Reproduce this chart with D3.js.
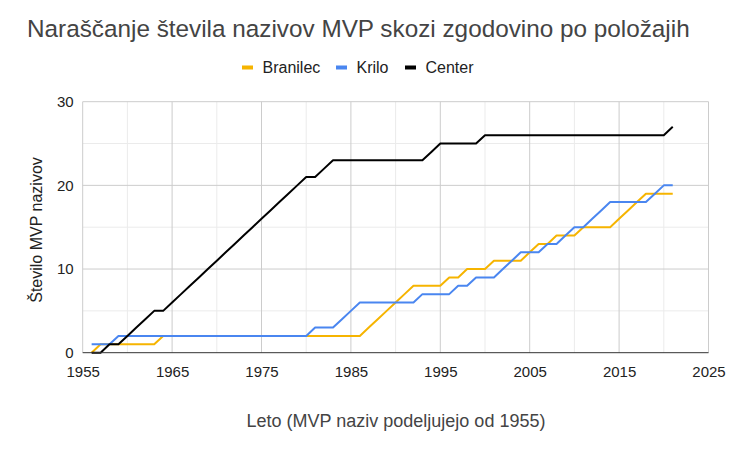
<!DOCTYPE html>
<html><head><meta charset="utf-8">
<script src="https://cdn.jsdelivr.net/npm/d3@7"></script>
<style>body{margin:0;background:#fff}svg{display:block}text{font-family:Arial,"Liberation Sans",sans-serif}</style>
</head><body>
<svg id="c" width="750" height="449"></svg>
<script>
const years = [1956,1957,1958,1959,1960,1961,1962,1963,1964,1965,1966,1967,1968,1969,1970,1971,1972,1973,1974,1975,1976,1977,1978,1979,1980,1981,1982,1983,1984,1985,1986,1987,1988,1989,1990,1991,1992,1993,1994,1995,1996,1997,1998,1999,2000,2001,2002,2003,2004,2005,2006,2007,2008,2009,2010,2011,2012,2013,2014,2015,2016,2017,2018,2019,2020,2021];
const branilec = [0,1,1,1,1,1,1,1,2, 2,2,2,2,2,2,2,2,2,2,2,2,2,2,2,2,2,2,2,2,2,2, 3,4,5,6,7,8,8,8,8,9,9,10,10,10,11,11,11,11,12,13,13,14,14,14,15,15,15,15,16,17,18,19,19,19,19];
const krilo = [1,1,1,2, 2,2,2,2,2,2,2,2,2,2,2,2,2,2,2,2,2,2,2,2,2, 3,3,3,4,5,6, 6,6,6,6,6,6, 7,7,7,7,8,8,9,9,9,10,11,12,12,12,13,13,14,15,15,16,17,18,18,18,18,18,19,20,20];
const center = [0,0,1,1,2,3,4,5,5, 6,7,8,9,10,11,12,13,14,15,16,17,18,19,20,21, 21,22,23, 23,23,23,23,23,23,23,23,23,23, 24,25, 25,25,25,25, 26,26,26,26,26,26,26,26,26,26,26,26,26,26,26,26,26,26,26,26,26, 27];
const seriesNames = ["Branilec","Krilo","Center"];
const seriesColors = ["#f6b400","#4a86f0","#000000"];
const xTicks = [1955,1965,1975,1985,1995,2005,2015,2025];
const yTicks = [0,10,20,30];
const titleText = "Naraščanje števila nazivov MVP skozi zgodovino po položajih";
const xTitle = "Leto (MVP naziv podeljujejo od 1955)";
const yTitle = "Število MVP nazivov";

const svg = d3.select("#c");
const L = 82.7, R = 708.5, T = 101.7, B = 352.7;
const x = d3.scaleLinear().domain([1955,2025]).range([L,R]);
const y = d3.scaleLinear().domain([0,30]).range([B,T]);

// minor gridlines
const g = svg.append("g");
g.selectAll(".vm").data(d3.range(1960,2025,10)).enter().append("line")
 .attr("x1",d=>x(d)).attr("x2",d=>x(d)).attr("y1",T).attr("y2",B).attr("stroke","#ebebeb").attr("stroke-width",1);
g.selectAll(".hm").data([5,15,25]).enter().append("line")
 .attr("x1",L).attr("x2",R).attr("y1",d=>y(d)).attr("y2",d=>y(d)).attr("stroke","#ebebeb").attr("stroke-width",1);
// major gridlines
g.selectAll(".vM").data(xTicks).enter().append("line")
 .attr("x1",d=>x(d)).attr("x2",d=>x(d)).attr("y1",T).attr("y2",B).attr("stroke","#cccccc").attr("stroke-width",1);
g.selectAll(".hM").data(yTicks.filter(d=>d>0)).enter().append("line")
 .attr("x1",L).attr("x2",R).attr("y1",d=>y(d)).attr("y2",d=>y(d)).attr("stroke","#cccccc").attr("stroke-width",1);

// lines
const data = [branilec, krilo, center];
const line = d3.line().x((d,i)=>x(years[i])).y(d=>y(d));
data.forEach((s,k)=>{
  svg.append("path").datum(s).attr("d",line).attr("fill","none")
    .attr("stroke",seriesColors[k]).attr("stroke-width",2).attr("stroke-linejoin","round");
});
// baseline
svg.append("line").attr("x1",L).attr("x2",R).attr("y1",B).attr("y2",B).attr("stroke","#333").attr("stroke-width",1);

// axes labels
const xa = svg.append("g").attr("transform",`translate(0,${B})`)
  .call(d3.axisBottom(x).tickValues(xTicks).tickFormat(d3.format("d")).tickSize(0).tickPadding(14));
xa.select(".domain").remove();
xa.selectAll("text").attr("font-size",15).attr("fill","#222").attr("font-family","Arial, Liberation Sans");
const ya = svg.append("g").attr("transform",`translate(${L},0)`)
  .call(d3.axisLeft(y).tickValues(yTicks).tickSize(0).tickPadding(9));
ya.select(".domain").remove();
ya.selectAll("text").attr("font-size",15).attr("fill","#222").attr("font-family","Arial, Liberation Sans");

// titles
svg.append("text").attr("x",27).attr("y",37).attr("font-size",24.3).attr("fill","#444").text(titleText);
svg.append("text").attr("x",396).attr("y",427).attr("text-anchor","middle").attr("font-size",18).attr("fill","#444").text(xTitle);
svg.append("text").attr("transform","translate(41.5,230) rotate(-90)").attr("text-anchor","middle").attr("font-size",16).attr("fill","#222").text(yTitle);

// legend
const legX = [242,336,405];
seriesNames.forEach((n,k)=>{
  svg.append("rect").attr("x",legX[k]).attr("y",65.5).attr("width",11).attr("height",4).attr("fill",seriesColors[k]);
  svg.append("text").attr("x",legX[k]+20.5).attr("y",72.5).attr("font-size",16).attr("fill","#222").text(n);
});
</script>
</body></html>
